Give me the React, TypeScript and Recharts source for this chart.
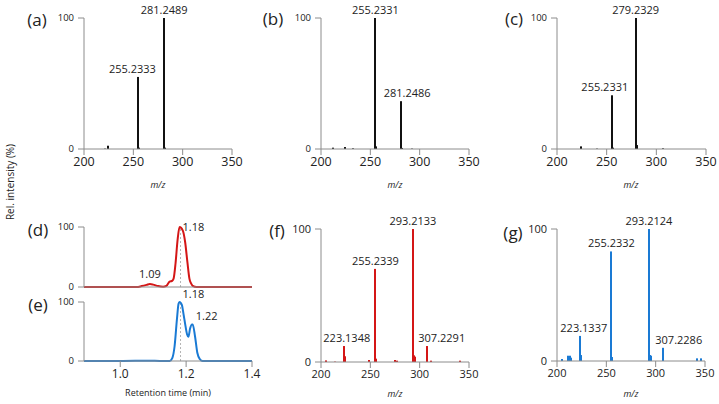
import React from 'react';
import { BarChart, Bar, XAxis, YAxis, LabelList, LineChart, Line, ReferenceLine } from 'recharts';

const FONT = '"Open Sans", "Noto Sans", sans-serif';
const AXIS = '#8c8c8c';
const TXT = '#222';
const RED = '#d41616';
const BLUE = '#1a7ad4';

// (a) spectrum
const mzA = [221, 224, 255.2333, 256.2, 281.2489, 282.2];
const intA = [0.3, 2.5, 55, 1, 100, 1];
const lblA = ['', '', '255.2333', '', '281.2489', ''];

// (b) spectrum
const mzB = [212.5, 224.3, 232.7, 255.2331, 256.2, 281.2486, 282.2, 292];
const intB = [1, 1.5, 0.5, 100, 2, 36.5, 0.8, 0.3];
const lblB = ['', '', '', '255.2331', '', '281.2486', '', ''];

// (c) spectrum
const mzC = [224.3, 240, 255.2331, 256.2, 279.2329, 280.2, 306.5];
const intC = [2, 0.3, 41, 1, 100, 3, 0.5];
const lblC = ['', '', '255.2331', '', '279.2329', '', ''];

// (f) spectrum
const mzF = [204.8, 214.2, 223.1348, 224.1, 249, 255.2339, 256.2, 275, 277.3, 293.2133, 294.2, 295.2, 307.2291, 311.4, 340.8];
const intF = [1.2, 0.3, 12, 4.3, 1.5, 70, 2.5, 1.5, 1, 100, 5, 4, 12, 1, 1];
const lblF = ['', '', '223.1348', '', '', '255.2339', '', '', '', '293.2133', '', '', '307.2291', '', ''];

// (g) spectrum
const mzG = [205, 211.5, 213.2, 214.5, 223.1337, 224.1, 255.2332, 256.2, 293.2124, 294.2, 295.2, 307.2286, 341.5, 346.2];
const intG = [1.5, 4, 4, 2.5, 19, 4.5, 83, 3, 100, 4.5, 4, 10, 2, 2];
const lblG = ['', '', '', '', '223.1337', '', '255.2332', '', '293.2124', '', '', '307.2286', '', ''];

// (d) chromatogram
const rtD = [0.89, 1.0, 1.05, 1.065, 1.08, 1.09, 1.1, 1.115, 1.13, 1.14, 1.15, 1.157, 1.162, 1.168, 1.174, 1.18, 1.19, 1.197, 1.204, 1.21, 1.215, 1.22, 1.232, 1.25, 1.3, 1.4];
const intD = [0, 0, 0, 1.5, 3.5, 5, 4, 1.5, 0.5, 2, 9, 10, 14, 40, 78, 100, 94, 75, 41, 14, 6, 2, 0, 0, 0, 0];
const peaksD = [1.09, 1.18];

// (e) chromatogram
const rtE = [0.89, 1.0, 1.09, 1.12, 1.15, 1.158, 1.165, 1.172, 1.177, 1.18, 1.187, 1.192, 1.197, 1.203, 1.207, 1.212, 1.218, 1.22, 1.227, 1.234, 1.242, 1.25, 1.3, 1.4];
const intE = [0, 0, 0.5, 0, 0, 5, 25, 70, 97, 100, 95, 80, 63, 45, 41, 55, 62, 62, 42, 14, 3, 0, 0, 0];
const peaksE = [1.18, 1.22];

const mzTicks = [200, 250, 300, 350];
const rtTicks = [1.0, 1.2, 1.4];

// small sideways nudges so neighbouring labels don't collide
const labelShift: Record<string, number> = {
  '255.2333': -6, '281.2486': 6, '255.2331c': -7,
  '223.1348': 3, '307.2291': 15, '223.1337': 4, '307.2286': 16,
};

const ML = 45, MT = 22, MR = 12, XH = 40;

const PeakLabel = (props: any) => {
  const { x, y, width, value, shiftKey } = props;
  if (!value) return null;
  const dx = labelShift[shiftKey ? value + shiftKey : value] || 0;
  return (
    <text x={x + width / 2 + dx} y={y - 4} textAnchor="middle" fontSize={11} fill={TXT}>
      {value}
    </text>
  );
};

// crisp 2px stick for each peak
const Stick = (props: any) => {
  const { x, y, width, height, fill } = props;
  if (!height || height <= 0) return null;
  const cx = Math.round(x + width / 2);
  return <rect x={cx - 1} y={y} width={2} height={height} fill={fill} />;
};

type Box = { x: number; y: number; w: number; h: number };

function Spectrum({ mz, inten, labels, color, box, yFont, xFont, shiftKey }: any) {
  const data = mz.map((m: number, i: number) => ({ mz: m, y: inten[i], label: labels[i] }));
  const b: Box = box;
  return (
    <div style={{ position: 'absolute', left: b.x - ML, top: b.y - MT }}>
      <BarChart width={b.w + ML + MR} height={b.h + MT + XH} data={data}
        margin={{ top: MT, right: MR, left: 0, bottom: 0 }} barSize={2}>
        <XAxis dataKey="mz" type="number" domain={[200, 350]} ticks={mzTicks} interval={0}
          height={XH} stroke={AXIS} tickSize={6} tickMargin={2}
          tick={{ fontSize: xFont, fill: TXT }} allowDataOverflow />
        <YAxis type="number" domain={[0, 100]} ticks={[0, 100]} width={ML} stroke={AXIS}
          tickSize={6} tickMargin={4} tick={{ fontSize: yFont, fill: TXT }} />
        <Bar dataKey="y" fill={color} shape={<Stick />} isAnimationActive={false}>
          <LabelList dataKey="label" content={(p: any) => <PeakLabel {...p} shiftKey={shiftKey} />} />
        </Bar>
      </BarChart>
    </div>
  );
}

const RtLabel = (props: any) => {
  const { x, y, value, mode } = props;
  if (!value) return null;
  if (mode === 'top') {
    return <text x={x} y={y - 6} textAnchor="middle" fontSize={11} fill={TXT}>{value}</text>;
  }
  return <text x={x + 3} y={y + (mode === 'up' ? -8 : 0)} dy="0.35em" textAnchor="start" fontSize={11} fill={TXT}>{value}</text>;
};

function Chrom({ rt, inten, peaks, color, box, showTicks, modes }: any) {
  const data = rt.map((t: number, i: number) => ({
    rt: t, y: inten[i], label: peaks.includes(t) ? t.toFixed(2) : '',
  }));
  const b: Box = box;
  return (
    <div style={{ position: 'absolute', left: b.x - ML, top: b.y - MT }}>
      <LineChart width={b.w + ML + MR} height={b.h + MT + XH} data={data}
        margin={{ top: MT, right: MR, left: 0, bottom: 0 }}>
        <XAxis dataKey="rt" type="number" domain={[0.89, 1.4]} ticks={rtTicks} interval={0}
          height={XH} stroke={AXIS} tickSize={showTicks ? 6 : 0} tickMargin={2}
          tick={showTicks ? { fontSize: 12, fill: TXT } : false}
          tickFormatter={(v: number) => v.toFixed(1)} allowDataOverflow />
        <YAxis type="number" domain={[0, 100]} ticks={[0, 100]} width={ML} stroke={AXIS}
          tickSize={6} tickMargin={4} tick={{ fontSize: 9.5, fill: TXT }} />
        <ReferenceLine x={1.183} stroke="#b4b4b4" strokeDasharray="2 2" />
        <Line type="monotone" dataKey="y" stroke={color} strokeWidth={2} dot={false} isAnimationActive={false}>
          <LabelList dataKey="label" content={(p: any) => <RtLabel {...p} mode={modes[p.value]} />} />
        </Line>
      </LineChart>
    </div>
  );
}

const Tag = ({ x, y, text, size = 17, italic = false }: any) => (
  <div style={{
    position: 'absolute', left: x, top: y, transform: 'translate(-50%, -50%)',
    fontSize: size, fontStyle: italic ? 'italic' : 'normal', color: TXT, whiteSpace: 'nowrap', lineHeight: 1,
  }}>{text}</div>
);

export default function App() {
  return (
    <div style={{ position: 'absolute', left: 0, top: 0, width: 719, height: 404, background: '#fff', fontFamily: FONT }}>
      <Spectrum mz={mzA} inten={intA} labels={lblA} color="#111" box={{ x: 84, y: 18, w: 148, h: 131 }} yFont={9.5} xFont={12.5} />
      <Spectrum mz={mzB} inten={intB} labels={lblB} color="#111" box={{ x: 321, y: 18, w: 148, h: 131 }} yFont={9.5} xFont={12.5} />
      <Spectrum mz={mzC} inten={intC} labels={lblC} color="#111" box={{ x: 557, y: 18, w: 149, h: 131 }} yFont={9.5} xFont={12.5} shiftKey="c" />
      <Chrom rt={rtD} inten={intD} peaks={peaksD} color={RED} box={{ x: 84, y: 227, w: 168, h: 60 }} showTicks={false}
        modes={{ '1.09': 'top', '1.18': 'right' }} />
      <Chrom rt={rtE} inten={intE} peaks={peaksE} color={BLUE} box={{ x: 84, y: 302, w: 168, h: 59 }} showTicks
        modes={{ '1.18': 'up', '1.22': 'up' }} />
      <Spectrum mz={mzF} inten={intF} labels={lblF} color={RED} box={{ x: 321, y: 229, w: 148, h: 133 }} yFont={11} xFont={11} />
      <Spectrum mz={mzG} inten={intG} labels={lblG} color={BLUE} box={{ x: 557, y: 229, w: 148, h: 132 }} yFont={11} xFont={11} />

      <Tag x={37} y={19} text="(a)" />
      <Tag x={273} y={18} text="(b)" />
      <Tag x={514} y={18} text="(c)" />
      <Tag x={38} y={229} text="(d)" />
      <Tag x={38} y={304} text="(e)" />
      <Tag x={277} y={230} text="(f)" />
      <Tag x={513} y={232} text="(g)" />

      <Tag x={158} y={184} text="m/z" size={9} italic />
      <Tag x={395} y={184} text="m/z" size={9} italic />
      <Tag x={631} y={184} text="m/z" size={9} italic />
      <Tag x={395} y={393} text="m/z" size={9} italic />
      <Tag x={631} y={393} text="m/z" size={9} italic />
      <Tag x={168} y={392} text="Retention time (min)" size={9} />

      <div style={{
        position: 'absolute', left: 10, top: 182, transform: 'translate(-50%, -50%) rotate(-90deg)',
        fontSize: 10, color: TXT, whiteSpace: 'nowrap', lineHeight: 1,
      }}>Rel. intensity (%)</div>
    </div>
  );
}
